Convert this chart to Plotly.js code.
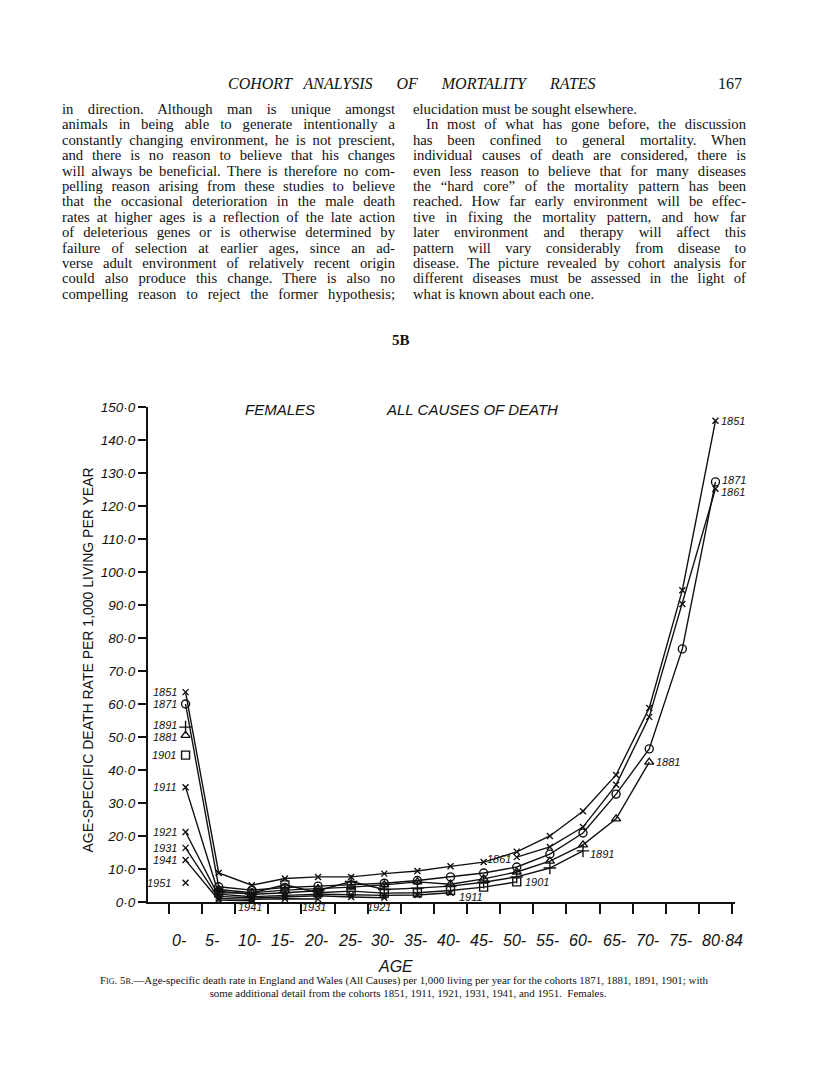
<!DOCTYPE html>
<html><head><meta charset="utf-8">
<script src="https://cdn.plot.ly/plotly-3.0.1.min.js"></script>
<style>
html,body{margin:0;padding:0;background:#fff;}
#page{position:relative;width:816px;height:1090px;overflow:hidden;background:#fff;}
#plot{position:absolute;left:0;top:0;width:816px;height:1090px;}
.t{position:absolute;font-family:"Liberation Serif","Times New Roman",serif;color:#111;white-space:nowrap;z-index:5;}
.ln{width:333px;font-size:14.7px;line-height:15.4px;height:15.4px;}
.j{text-align:justify;text-align-last:justify;}
.hd{font-style:italic;font-size:16px;word-spacing:8px;}
.cap{font-size:10.9px;line-height:13px;}
.sc{font-variant:small-caps;}
</style></head><body>
<div id="page">
<div id="plot"></div>
<div class="t hd" style="left:228px;top:75px;">COHORT ANALYSIS&nbsp; OF&nbsp; MORTALITY&nbsp; RATES</div>
<div class="t" style="left:718px;top:75px;font-size:16px;">167</div>
<div class="t" style="left:392px;top:332px;font-size:15px;font-weight:bold;">5B</div>
<div class="t cap" style="left:100px;top:974px;"><span class="sc">Fig. 5b.</span>—Age-specific death rate in England and Wales (All Causes) per 1,000 living per year for the cohorts 1871, 1881, 1891, 1901; with</div>
<div class="t cap" style="left:0;width:816px;text-align:center;top:987px;">some additional detail from the cohorts 1851, 1911, 1921, 1931, 1941, and 1951.&nbsp; Females.</div>
</div>
<script>
// ---------- body text ----------
const leftLines = [
 ["in direction. Although man is unique amongst","j"],
 ["animals in being able to generate intentionally a","j"],
 ["constantly changing environment, he is not prescient,","j"],
 ["and there is no reason to believe that his changes","j"],
 ["will always be beneficial. There is therefore no com-","j"],
 ["pelling reason arising from these studies to believe","j"],
 ["that the occasional deterioration in the male death","j"],
 ["rates at higher ages is a reflection of the late action","j"],
 ["of deleterious genes or is otherwise determined by","j"],
 ["failure of selection at earlier ages, since an ad-","j"],
 ["verse adult environment of relatively recent origin","j"],
 ["could also produce this change. There is also no","j"],
 ["compelling reason to reject the former hypothesis;","j"]
];
const rightLines = [
 ["elucidation must be sought elsewhere.",""],
 ["In most of what has gone before, the discussion","j i"],
 ["has been confined to general mortality. When","j"],
 ["individual causes of death are considered, there is","j"],
 ["even less reason to believe that for many diseases","j"],
 ["the \u201chard core\u201d of the mortality pattern has been","j"],
 ["reached. How far early environment will be effec-","j"],
 ["tive in fixing the mortality pattern, and how far","j"],
 ["later environment and therapy will affect this","j"],
 ["pattern will vary considerably from disease to","j"],
 ["disease. The picture revealed by cohort analysis for","j"],
 ["different diseases must be assessed in the light of","j"],
 ["what is known about each one.",""]
];
(function(){
  const page = document.getElementById('page');
  function put(lines, left){
    lines.forEach((l,i)=>{
      const d = document.createElement('div');
      d.className = 't ln ' + l[1].replace('i','');
      d.style.top = (102 + i*15.4) + 'px';
      if (l[1].indexOf('i')>=0){ d.style.left=(left+13)+'px'; d.style.width='320px'; }
      else d.style.left = left + 'px';
      d.textContent = l[0];
      page.appendChild(d);
    });
  }
  put(leftLines, 62);
  put(rightLines, 413);
})();

// ---------- chart data ----------
const ageLabels = ["0-","5-","10-","15-","20-","25-","30-","35-","40-","45-","50-","55-","60-","65-","70-","75-","80\u00b784"];
const ageStart  = [0,5,10,15,20,25,30,35,40,45,50,55,60,65,70,75,80];
const axisTicks = [0,5,10,15,20,25,30,35,40,45,50,55,60,65,70,75,80,85];
const rateTicks = [0,10,20,30,40,50,60,70,80,90,100,110,120,130,140,150];
const rateTickText = ["0\u00b70","10\u00b70","20\u00b70","30\u00b70","40\u00b70","50\u00b70","60\u00b70","70\u00b70","80\u00b70","90\u00b70","100\u00b70","110\u00b70","120\u00b70","130\u00b70","140\u00b70","150\u00b70"];

const c1851 = [63.6, 8.8, 5.1, 7.1, 7.6, 7.6, 8.6, 9.4, 10.8, 12.1, 15.2, 20.0, 27.5, 38.5, 58.8, 94.5, 145.8];
const c1861 = [null, null, null, null, null, null, null, null, null, null, 13.6, 16.7, 22.7, 35.5, 56.1, 90.3, 125.2];
const c1871 = [60.0, 4.6, 3.6, 4.4, 4.8, 5.2, 5.7, 6.5, 7.6, 8.8, 10.6, 14.5, 20.9, 32.7, 46.4, 76.7, 127.3];
const c1881 = [50.5, 3.8, 2.8, 3.6, 4.0, 4.5, 5.2, 6.1, 5.4, 7.0, 9.1, 12.4, 17.3, 25.2, 42.4];
const c1891 = [53.0, 3.3, 2.3, 2.8, 3.4, 6.2, 3.8, 4.2, 4.8, 6.0, 7.6, 10.3, 15.5];
const c1901 = [44.5, 2.8, 2.7, 5.2, 2.8, 3.3, 2.7, 2.8, 3.5, 4.5, 6.1];
const c1911 = [34.8, 2.4, 1.6, 2.0, 2.4, 2.2, 2.0, 2.1, 2.8];
const c1921 = [21.2, 1.7, 1.2, 1.6, 1.9, 1.5, 1.3];
const c1931 = [16.4, 1.1, 0.8, 1.0, 0.9];
const c1941 = [12.7, 0.6, 0.4];
const c1951 = [5.8];

const cohorts = ["1851","1861","1871","1881","1891","1901","1911","1921","1931","1941","1951"];
const cohortValues = {"1851":c1851,"1861":c1861,"1871":c1871,"1881":c1881,"1891":c1891,"1901":c1901,
  "1911":c1911,"1921":c1921,"1931":c1931,"1941":c1941,"1951":c1951};

// styles
const symbolOf = {"1851":"x-thin","1861":"x-thin","1871":"circle-open","1881":"triangle-up-open",
  "1891":"cross-thin","1901":"square-open","1911":"x-thin","1921":"x-thin","1931":"x-thin","1941":"x-thin","1951":"x-thin"};
const sizeOf = {"x-thin":6,"circle-open":8,"triangle-up-open":8,"cross-thin":9,"square-open":8};
const looseFirst = {"1881":true,"1891":true,"1901":true,"1951":true};

const INK = '#111';
const traces = [];
cohorts.forEach(c=>{
  const vals = cohortValues[c];
  const xs = vals.map((v,i)=>ageStart[i]+2.5);
  const sym = symbolOf[c];
  const mk = {symbol:sym, size:sizeOf[sym], color:INK, line:{color:INK, width:1.4}};
  if (looseFirst[c]) {
    traces.push({type:'scatter', mode:'markers', x:[xs[0]], y:[vals[0]], marker:mk, cliponaxis:false, hoverinfo:'skip'});
    if (vals.length>1) traces.push({type:'scatter', mode:'lines+markers', x:xs.slice(1), y:vals.slice(1),
      line:{color:INK,width:1.4}, marker:mk, cliponaxis:false, connectgaps:false});
  } else {
    traces.push({type:'scatter', mode:'lines+markers', x:xs, y:vals, line:{color:INK,width:1.4},
      marker:mk, cliponaxis:false, connectgaps:false});
  }
});

// label placement (offsets only; positions come from the data)
const labelFont = {family:'Liberation Sans, Arial, sans-serif', size:11, color:INK, style:'italic'};
const labelSpecs = [
 {c:"1851", i:0, xa:'right', dx:-7, dy:0},
 {c:"1871", i:0, xa:'right', dx:-7, dy:0},
 {c:"1891", i:0, xa:'right', dx:-7, dy:2},
 {c:"1881", i:0, xa:'right', dx:-7, dy:-2},
 {c:"1901", i:0, xa:'right', dx:-8, dy:0},
 {c:"1911", i:0, xa:'right', dx:-7, dy:0},
 {c:"1921", i:0, xa:'right', dx:-7, dy:0},
 {c:"1931", i:0, xa:'right', dx:-7, dy:0},
 {c:"1941", i:0, xa:'right', dx:-7, dy:0},
 {c:"1951", i:0, xa:'right', dx:-13, dy:0},
 {c:"1851", i:16, xa:'left', dx:4, dy:0},
 {c:"1871", i:16, xa:'left', dx:5, dy:2},
 {c:"1861", i:16, xa:'left', dx:4, dy:-3},
 {c:"1881", i:14, xa:'left', dx:5, dy:0},
 {c:"1891", i:12, xa:'left', dx:5, dy:-3},
 {c:"1901", i:10, xa:'left', dx:6, dy:0},
 {c:"1861", i:10, xa:'right', dx:-4, dy:-2},
 {c:"1911", i:8, xa:'left', dx:6, dy:-4},
 {c:"1921", i:6, xa:'center', dx:-5, dy:-9},
 {c:"1931", i:4, xa:'center', dx:-4, dy:-8},
 {c:"1941", i:2, xa:'center', dx:-2, dy:-6}
];
const annotations = labelSpecs.map(s=>({
  x: ageStart[s.i]+2.5, y: cohortValues[s.c][s.i], xref:'x', yref:'y',
  text: s.c, showarrow:false, xanchor:s.xa, yanchor:'middle', xshift:s.dx, yshift:s.dy, font:labelFont
}));

// age labels on x axis (left-aligned at the group start)
const tickFont = {family:'Liberation Sans, Arial, sans-serif', size:16, color:INK, style:'italic'};
ageLabels.forEach((t,i)=>{
  annotations.push({x:ageStart[i], y:-0.077, xref:'x', yref:'paper', text:t, showarrow:false,
    xanchor:'left', yanchor:'middle', xshift:1, font:tickFont});
});
annotations.push({x:0.421, y:-0.130, xref:'paper', yref:'paper', text:'AGE', showarrow:false,
  xanchor:'center', yanchor:'middle', font:{family:'Liberation Sans, Arial, sans-serif', size:16, color:INK, style:'italic'}});
annotations.push({x:-0.103, y:0.489, xref:'paper', yref:'paper', text:'AGE-SPECIFIC DEATH RATE PER 1,000 LIVING PER YEAR',
  showarrow:false, textangle:-90, xanchor:'center', yanchor:'middle',
  font:{family:'Liberation Sans, Arial, sans-serif', size:14, color:INK}});
annotations.push({x:0.225, y:0.994, xref:'paper', yref:'paper', text:'FEMALES', showarrow:false,
  xanchor:'center', yanchor:'middle', font:{family:'Liberation Sans, Arial, sans-serif', size:15, color:INK, style:'italic'}});
annotations.push({x:0.552, y:0.994, xref:'paper', yref:'paper', text:'ALL CAUSES OF DEATH', showarrow:false,
  xanchor:'center', yanchor:'middle', font:{family:'Liberation Sans, Arial, sans-serif', size:15, color:INK, style:'italic'}});

const layout = {
  width:816, height:1090,
  margin:{l:148, r:81, t:407, b:188, pad:0},
  paper_bgcolor:'#fff', plot_bgcolor:'#fff',
  showlegend:false,
  xaxis:{range:[-3.17,85.45], showgrid:false, zeroline:false, showline:true, linewidth:2, linecolor:INK,
    ticks:'outside', ticklen:10, tickwidth:2, tickcolor:INK, tickmode:'array', tickvals:axisTicks, showticklabels:false, fixedrange:true},
  yaxis:{range:[0,150], showgrid:false, zeroline:false, showline:true, linewidth:2, linecolor:INK,
    ticks:'outside', ticklen:8, tickwidth:2, tickcolor:INK, tickmode:'array', tickvals:rateTicks, ticktext:rateTickText,
    tickfont:{family:'Liberation Sans, Arial, sans-serif', size:13.5, color:INK, style:'italic'}, fixedrange:true},
  annotations: annotations
};
Plotly.newPlot('plot', traces, layout, {displayModeBar:false, staticPlot:true});
</script>
</body></html>
